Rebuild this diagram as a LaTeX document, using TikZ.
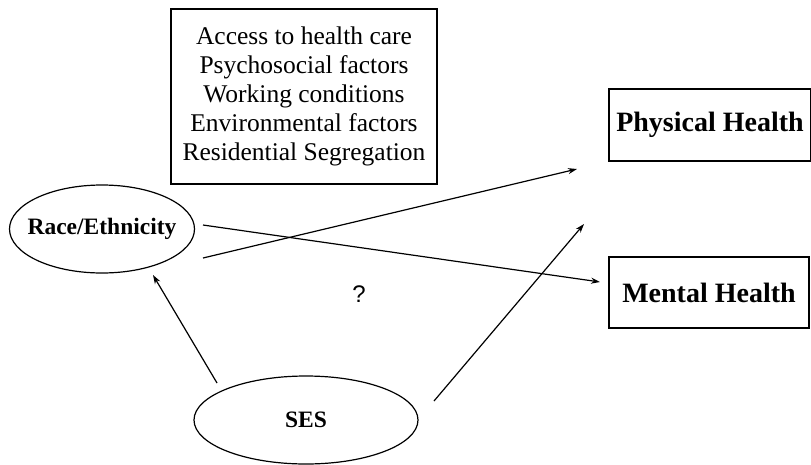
\documentclass[tikz,border=0pt]{standalone}
\usepackage{fontspec}
\setmainfont{Liberation Serif}
\newfontfamily\qfont{Liberation Sans}
\usetikzlibrary{shapes.geometric,arrows.meta}
\begin{document}
\begin{tikzpicture}[x=1pt,y=-1pt,
  lbl/.style={font=\fontsize{25.5}{29}\selectfont},
  blbl/.style={font=\fontsize{23.5}{28}\selectfont\bfseries},
  hlbl/.style={font=\fontsize{28}{32}\selectfont\bfseries},
  conn/.style={line width=1.2pt,-{Stealth[length=9pt,width=6pt]}},
  frame/.style={draw,line width=1.2pt}]
\useasboundingbox (0,0) rectangle (811,464);
\fill[white] (0,0) rectangle (811,464);
\node[frame,rectangle,minimum width=266pt,minimum height=175pt,inner sep=0pt,align=center,lbl] (factors) at (304,96.5)
  {Access to health care\\Psychosocial factors\\Working conditions\\Environmental factors\\Residential Segregation};
\node[frame,ellipse,minimum width=184pt,minimum height=88pt,inner xsep=-9pt,inner ysep=0pt,blbl] (race) at (102,229) {Race/Ethnicity};
\node[frame,ellipse,minimum width=224pt,minimum height=88pt,inner sep=0pt,blbl] (ses) at (306,420) {SES};
\node[frame,rectangle,minimum width=202pt,minimum height=72pt,inner sep=0pt,hlbl] (phys) at (710,125) {Physical Health};
\node[frame,rectangle,minimum width=200pt,minimum height=71pt,inner sep=0pt,hlbl] (ment) at (709,292.5) {Mental Health};
\node[font=\qfont\fontsize{24}{28}\selectfont,inner sep=0pt] (q) at (359,294) {?};
\coordinate (r1) at (203,258);
\coordinate (r1e) at (577,169);
\coordinate (r2) at (203,225);
\coordinate (r2e) at (600,282);
\coordinate (s1) at (217,383);
\coordinate (s1e) at (153,275);
\coordinate (s2) at (434,401);
\coordinate (s2e) at (584,224);
\draw[conn] (r1) -- (r1e);
\draw[conn] (r2) -- (r2e);
\draw[conn] (s1) -- (s1e);
\draw[conn] (s2) -- (s2e);
\end{tikzpicture}
\end{document}
